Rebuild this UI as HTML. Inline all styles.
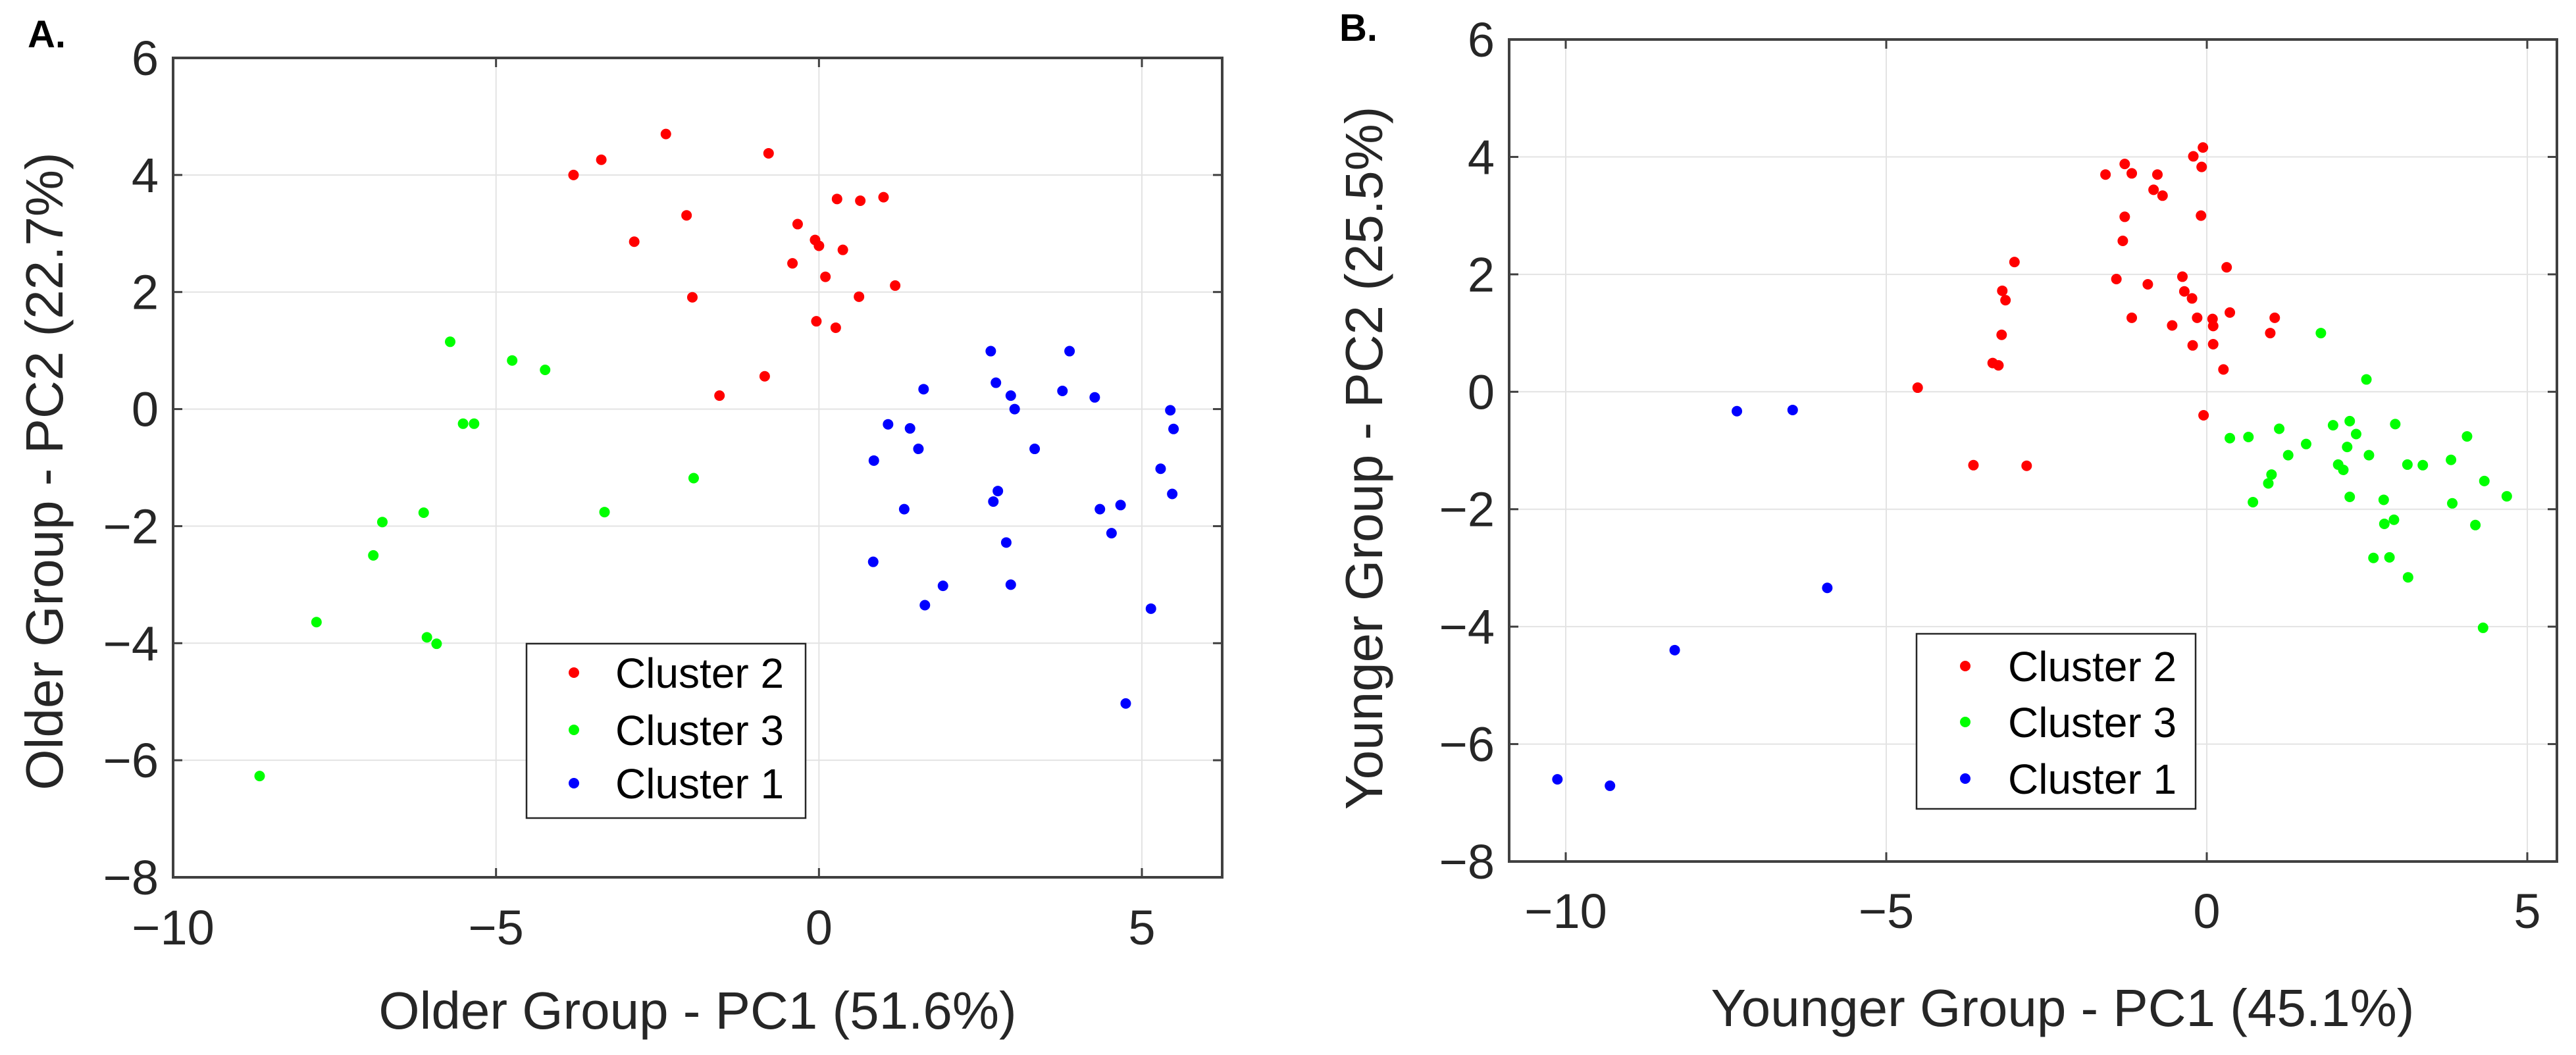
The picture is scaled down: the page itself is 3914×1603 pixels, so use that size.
<!DOCTYPE html>
<html><head><meta charset="utf-8"><style>
body{margin:0;background:#fff}
svg{display:block;font-family:"Liberation Sans",sans-serif}
</style></head><body>
<svg id="chart" width="3914" height="1603" viewBox="0 0 3914 1603"></svg>
<script>
const xTicks=[-10,-5,0,5];
const yTicks=[6,4,2,0,-2,-4,-6,-8];
const legendLabels=["Cluster 2","Cluster 3","Cluster 1"];
const colors=["#ff0000","#00ff00","#0000ff"];
const aRedX=[-3.80,-3.37,-2.37,-0.78,-2.05,-2.86,-1.96,0.28,0.64,1.00,-0.33,-0.06,0.0,0.37,-0.41,0.10,0.62,1.18,-0.04,0.26,-0.84,-1.54];
const aRedY=[4.00,4.26,4.70,4.37,3.31,2.86,1.91,3.59,3.56,3.62,3.16,2.89,2.79,2.72,2.49,2.26,1.92,2.11,1.50,1.39,0.56,0.23];
const aGreenX=[-5.71,-4.75,-4.24,-5.51,-5.34,-1.94,-3.32,-6.12,-6.76,-6.90,-7.78,-6.07,-5.92,-8.66];
const aGreenY=[1.15,0.83,0.67,-0.25,-0.25,-1.18,-1.76,-1.77,-1.93,-2.50,-3.64,-3.90,-4.01,-6.27];
const aBlueX=[2.66,3.88,1.62,2.74,2.97,3.03,3.77,4.27,5.44,5.49,1.07,1.41,1.54,3.34,0.85,5.29,2.77,2.70,5.47,1.32,4.35,4.67,4.53,2.90,0.84,1.92,2.97,1.64,5.14,4.75];
const aBlueY=[0.99,0.99,0.34,0.45,0.23,0.0,0.31,0.20,-0.02,-0.34,-0.26,-0.33,-0.68,-0.68,-0.88,-1.02,-1.40,-1.58,-1.45,-1.71,-1.71,-1.64,-2.12,-2.28,-2.61,-3.02,-3.00,-3.35,-3.41,-5.03];
const bRedX=[-0.06,-0.21,-0.08,-1.28,-1.58,-1.17,-0.77,-0.83,-0.69,-1.28,-0.09,-1.31,-3.00,0.31,-1.41,-0.38,-3.19,-0.92,-0.35,-3.14,-0.23,-1.17,-0.15,0.09,0.10,0.36,1.06,-0.54,0.99,-3.20,-0.22,0.10,-3.34,-3.25,0.26,-4.51,-0.05,-3.64,-2.81];
const bRedY=[4.16,4.01,3.83,3.88,3.70,3.72,3.70,3.44,3.34,2.98,3.00,2.57,2.21,2.12,1.92,1.96,1.72,1.83,1.71,1.56,1.59,1.26,1.26,1.24,1.12,1.35,1.26,1.13,1.00,0.97,0.79,0.81,0.49,0.45,0.38,0.07,-0.40,-1.25,-1.26];
const bGreenX=[1.78,2.49,0.36,0.65,1.13,1.55,1.97,2.23,2.33,2.19,2.94,1.27,2.05,2.13,2.53,3.13,3.37,3.81,4.06,1.01,0.96,0.72,2.23,2.76,3.83,4.33,4.68,2.77,2.92,4.19,2.60,2.85,3.14,4.31];
const bGreenY=[1.00,0.21,-0.79,-0.77,-0.63,-0.89,-0.57,-0.50,-0.72,-0.94,-0.55,-1.08,-1.24,-1.33,-1.08,-1.24,-1.25,-1.16,-0.76,-1.41,-1.56,-1.88,-1.79,-1.84,-1.90,-1.52,-1.78,-2.25,-2.18,-2.27,-2.83,-2.82,-3.16,-4.02];
const bBlueX=[-7.33,-6.46,-5.92,-8.30,-10.13,-9.31];
const bBlueY=[-0.33,-0.31,-3.34,-4.40,-6.60,-6.71];

const NS="http://www.w3.org/2000/svg";
const svg=document.getElementById('chart');
function mk(tag,attrs,parent,text){const e=document.createElementNS(NS,tag);for(const k in attrs)e.setAttribute(k,attrs[k]);if(text!==undefined)e.textContent=text;(parent||svg).appendChild(e);return e;}

function panel(cfg){
  const g=mk('g',{});
  
  
  const sx=v=>cfg.x0px+(v-(-10))*(cfg.x5px-cfg.x0px)/15;
  const sy=v=>cfg.y6px+(6-v)*(cfg.ym8px-cfg.y6px)/14;
  xTicks.forEach(t=>{const l=mk('line',{x1:sx(t),x2:sx(t),y1:cfg.top,y2:cfg.bottom,stroke:'#e3e3e3','stroke-width':2},g);
    });
  yTicks.forEach(t=>{const l=mk('line',{x1:cfg.left,x2:cfg.right,y1:sy(t),y2:sy(t),stroke:'#e3e3e3','stroke-width':2},g);
    });
  xTicks.forEach(t=>{mk('line',{x1:sx(t),x2:sx(t),y1:cfg.bottom,y2:cfg.bottom-14,stroke:'#404040','stroke-width':3},g);mk('line',{x1:sx(t),x2:sx(t),y1:cfg.top,y2:cfg.top+14,stroke:'#404040','stroke-width':3},g);
    const tx=mk('text',{x:sx(t),y:cfg.xlabBase,'text-anchor':'middle','font-size':74,fill:'#262626'},g,t<0?'\u2212'+Math.abs(t):String(t));
    });
  yTicks.forEach(t=>{mk('line',{x1:cfg.left,x2:cfg.left+14,y1:sy(t),y2:sy(t),stroke:'#404040','stroke-width':3},g);mk('line',{x1:cfg.right,x2:cfg.right-14,y1:sy(t),y2:sy(t),stroke:'#404040','stroke-width':3},g);
    const tx=mk('text',{x:cfg.left-22,y:sy(t)+26,'text-anchor':'end','font-size':74,fill:'#262626'},g,t<0?'\u2212'+Math.abs(t):String(t));
    });
  const box=mk('rect',{x:cfg.left,y:cfg.top,width:cfg.right-cfg.left,height:cfg.bottom-cfg.top,fill:'none',stroke:'#404040','stroke-width':4},g);
  
  cfg.series.forEach((s,i)=>{s[0].forEach((xv,j)=>{const c=mk('circle',{cx:sx(xv),cy:sy(s[1][j]),r:8,fill:colors[i]},g);
    });});
  const L=cfg.legend;
  const lg=mk('g',{},g);
  mk('rect',{x:L.x,y:L.y,width:L.w,height:L.h,fill:'#fff',stroke:'#262626','stroke-width':2.5},lg);
  legendLabels.forEach((lab,i)=>{const cy=L.rows[i];
    const m=mk('circle',{cx:L.mx,cy:cy,r:8,fill:colors[i]},lg);
    const t=mk('text',{x:L.tx,y:cy+23,'font-size':64,fill:'#000'},lg,lab);});
  const xt=mk('text',{x:cfg.xtX,y:cfg.xtY,'text-anchor':'middle','font-size':80,fill:'#262626'},g,cfg.xTitle);
  
  const yt=mk('text',{x:0,y:0,'text-anchor':'middle','font-size':80,fill:'#262626',transform:`translate(${cfg.ytX},${cfg.ytY}) rotate(-90)`},g,cfg.yTitle);
  
  const pl=mk('text',{x:cfg.plX,y:cfg.plY,'font-size':58,'font-weight':'bold',fill:'#000'},g,cfg.plabel);
  
}

panel({name:'panel-a',x0px:263,x5px:1735,y6px:88,ym8px:1333,left:263,right:1857,top:88,bottom:1333,xlabBase:1435,
  series:[[aRedX,aRedY,'cluster-2'],[aGreenX,aGreenY,'cluster-3'],[aBlueX,aBlueY,'cluster-1']],
  legend:{x:800,y:978,w:424,h:265,mx:872,tx:935,rows:[1022,1109,1190]},
  xTitle:'Older Group - PC1 (51.6%)',xtX:1060,xtY:1563,yTitle:'Older Group - PC2 (22.7%)',ytX:95,ytY:716,plabel:'A.',plX:42,plY:72});
panel({name:'panel-b',x0px:2379,x5px:3840,y6px:60,ym8px:1309,left:2293,right:3885,top:60,bottom:1309,xlabBase:1410,
  series:[[bRedX,bRedY,'cluster-2'],[bGreenX,bGreenY,'cluster-3'],[bBlueX,bBlueY,'cluster-1']],
  legend:{x:2912,y:963,w:424,h:266,mx:2986,tx:3051,rows:[1012,1097,1183]},
  xTitle:'Younger Group - PC1 (45.1%)',xtX:3134,xtY:1559,yTitle:'Younger Group - PC2 (25.5%)',ytX:2100,ytY:696,plabel:'B.',plX:2035,plY:62});
</script>
</body></html>
